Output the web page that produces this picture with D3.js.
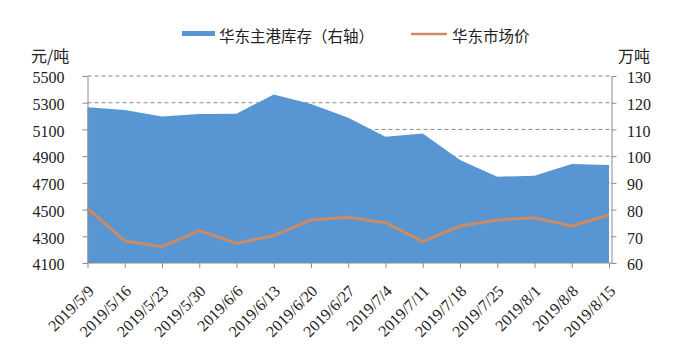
<!DOCTYPE html>
<html>
<head>
<meta charset="utf-8">
<script src="https://cdn.jsdelivr.net/npm/d3@7/dist/d3.min.js"></script>
<style>
  html, body { margin: 0; padding: 0; background: #fff; }
  svg { display: block; }
</style>
</head>
<body>
<svg id="chart" width="679" height="360"></svg>
<script>
const dates = ["2019/5/9","2019/5/16","2019/5/23","2019/5/30","2019/6/6","2019/6/13","2019/6/20","2019/6/27","2019/7/4","2019/7/11","2019/7/18","2019/7/25","2019/8/1","2019/8/8","2019/8/15"];
const inventory = [118.3,117.3,114.8,115.8,115.9,123.1,119.5,114.4,107.3,108.5,98.6,92.3,92.7,97.1,96.7];
const price = [4509,4265,4222,4342,4247,4305,4422,4442,4402,4260,4377,4422,4439,4377,4459];
const leftTicks = [4100,4300,4500,4700,4900,5100,5300,5500];
const rightTicks = [60,70,80,90,100,110,120,130];
const seriesNames = ["华东主港库存（右轴）","华东市场价"];
const axisTitles = ["元/吨","万吨"];

const svg = d3.select("#chart");
const X0 = 87.5, X1 = 609, XR = 611.5, YT = 76, YB = 263;
const x = d3.scalePoint().domain(dates).range([X0, X1]);
const yL = d3.scaleLinear().domain([4100,5500]).range([YB, YT]);
const yR = d3.scaleLinear().domain([60,130]).range([YB, YT]);

const axisColor = "#8c8c8c";
const numFont = "Liberation Serif, DejaVu Serif, serif";
const cjkFont = "Noto Sans CJK SC, sans-serif";

// gridlines
svg.append("g").selectAll("line").data(leftTicks.filter(t => t !== 4100)).join("line")
  .attr("x1", X0).attr("x2", XR).attr("y1", d => yL(d)).attr("y2", d => yL(d))
  .attr("stroke", "#8a8a8a").attr("stroke-width", 1).attr("stroke-dasharray", "4,3");

// area
const area = d3.area().x((d, i) => x(dates[i])).y0(YB).y1(d => yR(d));
svg.append("path").datum(inventory).attr("d", area).attr("fill", "#5896d3");

// line
const line = d3.line().x((d, i) => x(dates[i])).y(d => yL(d));
svg.append("path").datum(price).attr("d", line).attr("fill", "none")
  .attr("stroke", "#cc8b62").attr("stroke-width", 3).attr("stroke-linejoin", "round");

// left axis
const gL = svg.append("g").attr("transform", `translate(${X0},0)`)
  .call(d3.axisLeft(yL).tickValues(leftTicks).tickFormat(d3.format("d")).tickSize(5).tickPadding(18).tickSizeOuter(0));
gL.attr("font-family", numFont).attr("font-size", 16);
gL.selectAll("text").attr("fill", "#222").attr("dy", "0.42em");
gL.selectAll("line, path").attr("stroke", axisColor);

// right axis
const gR = svg.append("g").attr("transform", `translate(${XR},0)`)
  .call(d3.axisRight(yR).tickValues(rightTicks).tickFormat(d3.format("d")).tickSize(5).tickPadding(10.5).tickSizeOuter(0));
gR.attr("font-family", numFont).attr("font-size", 16);
gR.selectAll("text").attr("fill", "#222").attr("dy", "0.42em");
gR.selectAll("line, path").attr("stroke", axisColor);

// bottom axis
const gB = svg.append("g").attr("transform", `translate(0,${YB})`)
  .call(d3.axisBottom(x).tickSize(5).tickSizeOuter(0));
gB.attr("font-family", numFont).attr("font-size", 16);
gB.select(".domain").attr("d", `M${X0},0H${XR}`).attr("stroke", axisColor);
gB.selectAll("line").attr("stroke", axisColor);
gB.selectAll("text")
  .attr("fill", "#222")
  .attr("text-anchor", "end").attr("y", 0).attr("dy", 0)
  .attr("transform", "translate(7,29) rotate(-45)");

// axis titles
svg.append("text").attr("x", 31).attr("y", 62).attr("font-family", cjkFont)
  .attr("font-size", 16).attr("fill", "#222").text(axisTitles[0]);
svg.append("text").attr("x", 618).attr("y", 62).attr("font-family", cjkFont)
  .attr("font-size", 16).attr("fill", "#222").text(axisTitles[1]);

// legend
const lg = svg.append("g");
lg.append("rect").attr("x", 182).attr("y", 31).attr("width", 33).attr("height", 5).attr("fill", "#5896d3");
lg.append("text").attr("x", 219).attr("y", 41.5).attr("font-family", cjkFont)
  .attr("font-size", 15.5).attr("fill", "#222").text(seriesNames[0]);
lg.append("line").attr("x1", 411).attr("x2", 447).attr("y1", 34).attr("y2", 34)
  .attr("stroke", "#cc8b62").attr("stroke-width", 2.5);
lg.append("text").attr("x", 452).attr("y", 41.5).attr("font-family", cjkFont)
  .attr("font-size", 15.5).attr("fill", "#222").text(seriesNames[1]);
</script>
</body>
</html>
